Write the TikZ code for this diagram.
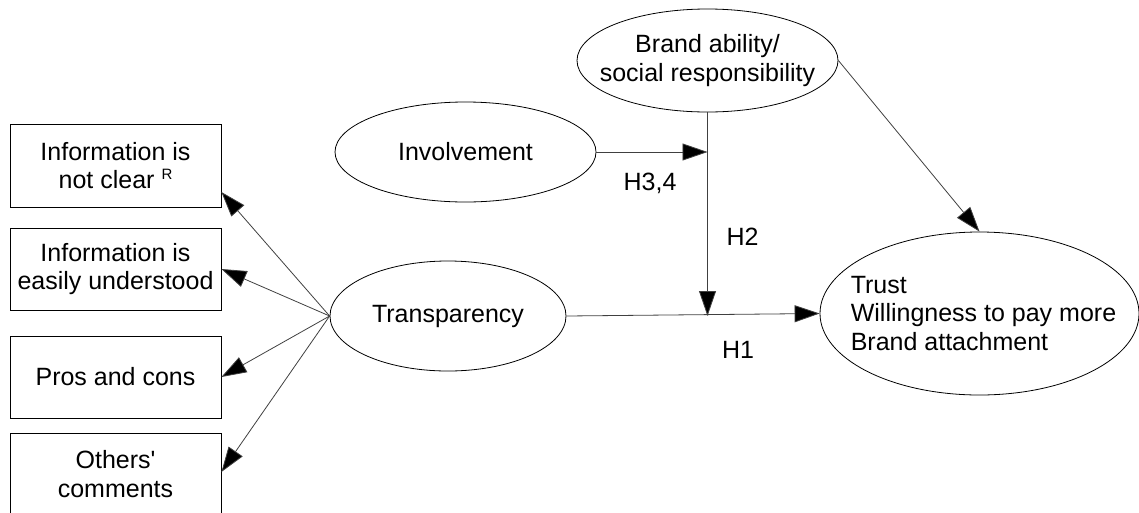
\documentclass[tikz,border=0pt]{standalone}
\usepackage{fontspec}
\setmainfont{Liberation Sans}
\usetikzlibrary{arrows.meta,shapes.geometric}
\begin{document}
\begin{tikzpicture}[x=1pt,y=-1pt,
  every node/.style={font=\fontsize{25}{28.5}\selectfont},
  item/.style={draw, line width=0.8pt, minimum width=211pt, inner sep=0pt, align=center},
  latent/.style={draw, ellipse, line width=0.8pt, inner sep=0pt},
  path/.style={draw=black!75, line width=0.8pt, -{Triangle[length=25pt,width=17pt,fill=black]}},
  hyp/.style={anchor=base}]
\useasboundingbox (0,0) rectangle (1139,512);
\clip (0,0) rectangle (1139,512);

% indicator boxes
\node[item, minimum height=83pt] (b1) at (115.5,165.5)
  {Information is\\ not clear \raisebox{9pt}{\fontsize{15}{15}\selectfont R}};
\node[item, minimum height=82pt] (b2) at (115.5,269) {Information is\\easily understood};
\node[item, minimum height=82pt] (b3) at (115.5,377) {Pros and cons};
\node[item, minimum height=82pt] (b4) at (115.5,474) {Others\textquotesingle\\comments};

% constructs
\node[latent, minimum width=236pt, minimum height=110pt,
  label={center:Transparency}] (trans) at (448,316) {};
\node[latent, minimum width=261pt, minimum height=100pt,
  label={center:Involvement}] (inv) at (465.5,152) {};
\node[latent, minimum width=261pt, minimum height=103pt,
  label={[align=center]center:Brand ability/\\social responsibility}] (brand) at (707.5,60.5) {};
\node[latent, minimum width=319pt, minimum height=163pt,
  label={[align=left,xshift=4pt]center:Trust\\Willingness to pay more\\Brand attachment}] (trust) at (979.5,313.5) {};

% junctions of the moderation paths
\coordinate (j1) at (brand.south |- inv.east);
\coordinate (j2) at (brand.south |- trans.east);

% structural paths
\draw[path] (trans.east) -- (trust.west);
\draw[path] (inv.east) -- (j1);
\draw[path] (brand.south) -- (j2);
\draw[path] (brand.east) -- (trust.north);

% measurement paths
\draw[path] (trans.west) -- ([yshift=-26.5pt]b1.east);
\draw[path] (trans.west) -- (b2.east);
\draw[path] (trans.west) -- (b3.east);
\draw[path] (trans.west) -- ([yshift=2pt]b4.east);

% hypothesis labels
\node[hyp] (h34) at (650,190) {H3,4};
\node[hyp] (h2) at (742.5,245) {H2};
\node[hyp] (h1) at (738,358) {H1};
\end{tikzpicture}
\end{document}
